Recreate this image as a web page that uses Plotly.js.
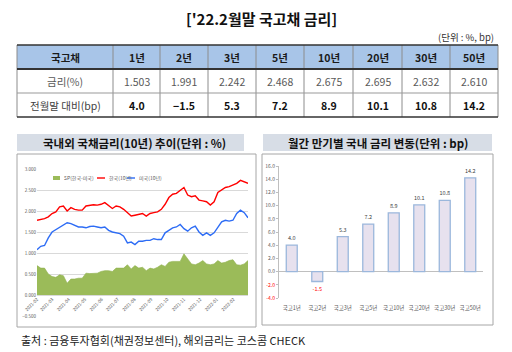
<!DOCTYPE html>
<html><head><meta charset="utf-8">
<script src="https://cdn.plot.ly/plotly-3.0.1.min.js"></script>
<style>html,body{margin:0;padding:0;background:#fff;}#c{width:512px;height:352px;}</style>
</head><body><div id="c"></div>
<script>
// ---- table data ----
const tenors = ['1년','2년','3년','5년','10년','20년','30년','50년'];
const rates = [1.503, 1.991, 2.242, 2.468, 2.675, 2.695, 2.632, 2.610];
const changeBp = [4.0, -1.5, 5.3, 7.2, 8.9, 10.1, 10.8, 14.2];
const rowLabels = ['금리(%)', '전월말 대비(bp)'];
const headerFirst = '국고채';

// ---- left chart: weekly 10y yields ----
const dates = ['2021-02-01','2021-02-08','2021-02-15','2021-02-22','2021-03-01','2021-03-08','2021-03-15','2021-03-22','2021-03-29','2021-04-05','2021-04-12','2021-04-19','2021-04-26','2021-05-03','2021-05-10','2021-05-17','2021-05-24','2021-05-31','2021-06-07','2021-06-14','2021-06-21','2021-06-28','2021-07-05','2021-07-12','2021-07-19','2021-07-26','2021-08-02','2021-08-09','2021-08-16','2021-08-23','2021-08-30','2021-09-06','2021-09-13','2021-09-20','2021-09-27','2021-10-04','2021-10-11','2021-10-18','2021-10-25','2021-11-01','2021-11-08','2021-11-15','2021-11-22','2021-11-29','2021-12-06','2021-12-13','2021-12-20','2021-12-27','2022-01-03','2022-01-10','2022-01-17','2022-01-24','2022-01-31','2022-02-07','2022-02-14','2022-02-21','2022-02-28'];
const korea10y = [1.78,1.80,1.82,1.86,1.94,1.98,2.10,2.12,2.00,2.08,2.04,2.02,2.02,2.12,2.14,2.15,2.14,2.16,2.20,2.12,2.06,2.12,2.10,2.04,1.96,1.88,1.90,1.92,1.94,1.88,1.94,1.96,1.98,2.04,2.16,2.32,2.40,2.42,2.48,2.56,2.38,2.34,2.36,2.26,2.24,2.22,2.14,2.22,2.44,2.50,2.56,2.58,2.62,2.66,2.73,2.70,2.66];
const us10y = [1.08,1.16,1.18,1.36,1.50,1.56,1.62,1.66,1.72,1.70,1.66,1.62,1.62,1.60,1.63,1.64,1.62,1.60,1.62,1.54,1.50,1.48,1.46,1.40,1.24,1.26,1.20,1.28,1.28,1.30,1.30,1.34,1.32,1.32,1.48,1.54,1.60,1.62,1.68,1.58,1.52,1.60,1.64,1.50,1.42,1.48,1.42,1.48,1.62,1.74,1.78,1.76,1.78,1.94,2.02,1.96,1.84];
const spreadKrUs = [0.70,0.64,0.64,0.50,0.44,0.42,0.48,0.46,0.28,0.38,0.38,0.40,0.40,0.52,0.51,0.51,0.52,0.56,0.58,0.58,0.56,0.64,0.64,0.64,0.72,0.62,0.70,0.64,0.66,0.58,0.64,0.62,0.66,0.72,0.68,0.78,0.80,0.80,0.80,0.98,0.86,0.74,0.72,0.76,0.82,0.74,0.72,0.74,0.82,0.76,0.78,0.82,0.84,0.72,0.71,0.74,0.82];
const seriesNames = ['SP(한국-미국)', '한국(10년)', '미국(10년)'];
const leftTickVals = [-0.5, 0, 0.5, 1.0, 1.5, 2.0, 2.5, 3.0];

// ---- right chart ----
const barCategories = tenors.map(t => '국고' + t);
const rightTickVals = [-4, -2, 0, 2, 4, 6, 8, 10, 12, 14, 16];

// ---- helpers (pixel -> paper) ----
const W = 512, H = 352;
const px = x => x / W;
const py = y => 1 - y / H;
const RED = '#ff0000';
const FONT = 'Noto Sans CJK KR';
const fmtSigned = v => (v < 0 ? '−' + Math.abs(v).toFixed(1) : v.toFixed(1));

// ---- table geometry (pixels) ----
const colEdges = [17, 113, 160, 208, 256, 304, 353, 402, 450, 498];
const rowEdges = [45, 69, 93, 117];
const colCenter = i => (colEdges[i] + colEdges[i + 1]) / 2;
const rowCenter = r => (rowEdges[r] + rowEdges[r + 1]) / 2 + 0.5;

const shapes = [];
const annotations = [];
const line = (x0, y0, x1, y1, color, width) => shapes.push({type: 'line', xref: 'paper', yref: 'paper', x0: px(x0), x1: px(x1), y0: py(y0), y1: py(y1), line: {color: color, width: width}});
const label = (text, x, y, size, color, xanchor) => annotations.push({text: text, x: px(x), y: py(y), xref: 'paper', yref: 'paper', xanchor: xanchor || 'center', yanchor: 'middle', showarrow: false, font: {family: FONT, size: size, color: color}});

// header fill
shapes.push({type: 'rect', xref: 'paper', yref: 'paper', x0: px(colEdges[0]), x1: px(colEdges[colEdges.length - 1]), y0: py(rowEdges[1]), y1: py(rowEdges[0]), fillcolor: '#a8c5e8', line: {width: 0}, layer: 'below'});
colEdges.forEach(x => line(x, rowEdges[0], x, rowEdges[3], '#8c8c8c', 1));
line(17, rowEdges[0], 498, rowEdges[0], '#333', 1.4);
line(17, rowEdges[1], 498, rowEdges[1], '#333', 2);
line(17, rowEdges[2], 498, rowEdges[2], '#999', 1);
line(17, rowEdges[3], 498, rowEdges[3], '#333', 1.6);
label('<b>' + headerFirst + '</b>', colCenter(0), rowCenter(0), 10.5, '#1a1a1a');
tenors.forEach((t, i) => label('<b>' + t + '</b>', colCenter(i + 1), rowCenter(0), 10.5, '#1a1a1a'));
label(rowLabels[0], colCenter(0), rowCenter(1), 10.5, '#595959');
label(rowLabels[1], colCenter(0), rowCenter(2), 10.5, '#404040');
rates.forEach((r, i) => label(r.toFixed(3), colCenter(i + 1), rowCenter(1), 10.5, '#595959'));
changeBp.forEach((v, i) => label('<b>' + fmtSigned(v) + '</b>', colCenter(i + 1), rowCenter(2), 10.5, '#111'));

// panel title boxes and frames
shapes.push({type: 'rect', xref: 'paper', yref: 'paper', x0: px(17), x1: px(244), y0: py(151), y1: py(134), fillcolor: '#d7dde6', line: {width: 0}, layer: 'below'});
shapes.push({type: 'rect', xref: 'paper', yref: 'paper', x0: px(263), x1: px(492), y0: py(151), y1: py(134), fillcolor: '#d7dde6', line: {width: 0}, layer: 'below'});
shapes.push({type: 'rect', xref: 'paper', yref: 'paper', x0: px(17), x1: px(256), y0: py(327), y1: py(154), line: {color: '#a6a6a6', width: 1}});
shapes.push({type: 'rect', xref: 'paper', yref: 'paper', x0: px(262), x1: px(493), y0: py(325), y1: py(154), line: {color: '#a6a6a6', width: 1}});
shapes.push({type: 'rect', xref: 'paper', yref: 'paper', x0: px(53), x1: px(60), y0: py(180), y1: py(176), fillcolor: '#9bbb59', line: {width: 0}});
line(97, 178, 105, 178, RED, 1.4);
line(127, 178, 135, 178, '#2d6cf5', 1.4);

label("<b>['22.2월말 국고채 금리]</b>", 261, 18, 15, '#111');
label('(단위 : %, bp)', 496, 37, 9.5, '#333', 'right');
label('<b>국내외 국채금리(10년) 추이(단위 : %)</b>', 134, 142.5, 11.5, '#111');
label('<b>월간 만기별 국내 금리 변동(단위 : bp)</b>', 378, 142.5, 11.5, '#111');
label(seriesNames[0], 62, 178, 5, '#595959', 'left');
label(seriesNames[1], 107, 178, 5, '#595959', 'left');
label(seriesNames[2], 137, 178, 5, '#595959', 'left');
label('출처 : 금융투자협회(채권정보센터), 해외금리는 코스콤 CHECK', 19, 340, 11, '#222', 'left');

const spreadTrace = {
  type: 'scatter', mode: 'lines', x: dates, y: spreadKrUs, name: seriesNames[0],
  fill: 'tozeroy', fillcolor: '#9bbb59', line: {color: '#8fb04d', width: 0.6},
  xaxis: 'x', yaxis: 'y'
};
const krTrace = {
  type: 'scatter', mode: 'lines', x: dates, y: korea10y, name: seriesNames[1],
  line: {color: RED, width: 1.4}, xaxis: 'x', yaxis: 'y'
};
const usTrace = {
  type: 'scatter', mode: 'lines', x: dates, y: us10y, name: seriesNames[2],
  line: {color: '#2d6cf5', width: 1.4}, xaxis: 'x', yaxis: 'y'
};
const barTrace = {
  type: 'bar', x: barCategories, y: changeBp, xaxis: 'x2', yaxis: 'y2',
  width: 0.43,
  marker: {color: '#e7e1ee', line: {color: '#9bb7dc', width: 1.3}},
  text: changeBp.map(v => v.toFixed(1)),
  textposition: 'outside', constraintext: 'none', cliponaxis: false,
  textfont: {family: FONT, size: 5.5, color: changeBp.map(v => v < 0 ? RED : '#404040')}
};

const layout = {
  width: W, height: H, margin: {l: 0, r: 0, t: 0, b: 0},
  paper_bgcolor: '#fff', plot_bgcolor: 'rgba(0,0,0,0)', showlegend: false,
  font: {family: FONT},
  xaxis: {
    domain: [px(37), px(248)], anchor: 'free', position: py(295),
    type: 'date', range: ['2021-02-01', '2022-02-28'],
    tick0: '2021-02-01', dtick: 'M1', tickformat: '%Y-%m', tickangle: -45,
    tickfont: {size: 4.5, color: '#595959'}, showgrid: false, zeroline: false, showline: false, ticks: ''
  },
  yaxis: {
    domain: [py(316), py(169)], anchor: 'x', range: [-0.5, 3.0],
    tickvals: leftTickVals, tickformat: '.3f',
    tickfont: {size: 4.5, color: '#595959'}, gridcolor: '#d9d9d9', gridwidth: 1,
    zeroline: false, showline: false, ticks: ''
  },
  xaxis2: {
    domain: [px(279), px(483)], anchor: 'y2', type: 'category', tickangle: 0,
    ticklabelstandoff: 5,
    tickfont: {size: 5.5, color: '#595959'}, showgrid: false, zeroline: false, showline: false, ticks: ''
  },
  yaxis2: {
    domain: [py(298), py(166)], anchor: 'x2', range: [-4, 16],
    tickvals: rightTickVals,
    ticktext: rightTickVals.map(v => v < 0 ? '<span style="color:' + RED + '">' + v.toFixed(1) + '</span>' : v.toFixed(1)),
    tickfont: {size: 5, color: '#595959'}, showgrid: false,
    zeroline: true, zerolinecolor: '#bfbfbf', zerolinewidth: 1,
    showline: true, linecolor: '#bfbfbf', linewidth: 1, ticks: 'outside', ticklen: 2, tickcolor: '#bfbfbf'
  },
  shapes: shapes,
  annotations: annotations
};

Plotly.newPlot('c', [spreadTrace, krTrace, usTrace, barTrace], layout, {staticPlot: true, displayModeBar: false});
</script>
</body></html>
